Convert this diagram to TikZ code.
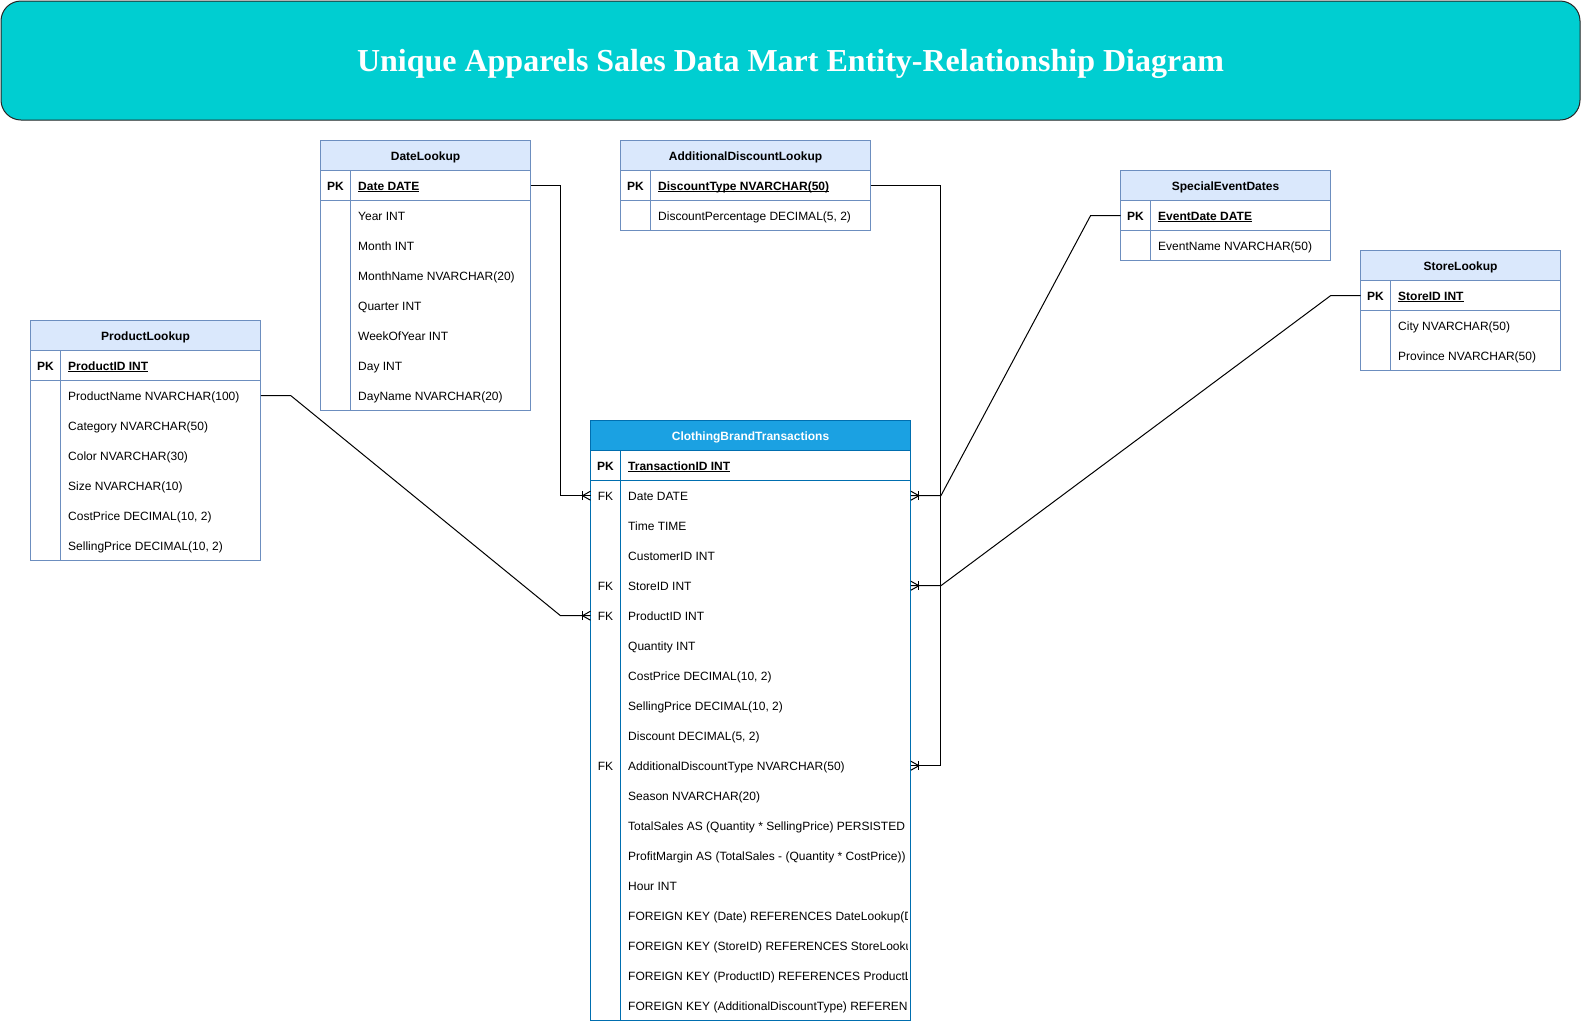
\documentclass[tikz,border=0pt]{standalone}
\usepackage{fontspec}
\setmainfont{Liberation Sans}
\newfontfamily\titlefont{Liberation Serif}
\usetikzlibrary{calc}

\definecolor{bannerfill}{HTML}{00CED1}
\definecolor{lkfill}{HTML}{DAE8FC}
\definecolor{lkline}{HTML}{6C8EBF}
\definecolor{lktitle}{HTML}{000000}
\definecolor{mainfill}{HTML}{1BA1E2}
\definecolor{mainline}{HTML}{006EAF}
\definecolor{maintitle}{HTML}{FFFFFF}

% underline drawn just below the baseline
\newlength\ulwidth
\newcommand\keyul[1]{\settowidth\ulwidth{#1}\rlap{\rule[-1.9pt]{\ulwidth}{0.9pt}}#1}

\tikzset{
  rowcell/.style={draw=none, inner sep=0pt, minimum height=30pt, anchor=north west},
  keylbl/.style={anchor=base, inner sep=0pt, font=\fontsize{12}{14}\selectfont},
  fldlbl/.style={anchor=base west, inner sep=0pt, font=\fontsize{12}{14}\selectfont},
  conn/.style={draw=black, line width=1pt},
  manyend/.pic={
    \draw[line width=1pt] (0,-4.5) -- (8,0) -- (0,4.5);
    \draw[line width=1pt] (8,-4.5) -- (8,4.5);
  }
}

% table frame: prefix, left, top, width, rows below header, colour set, title
\newcommand{\ertable}[7]{%
  \draw[line width=1pt, draw=#6line, fill=#6fill] (#2,#3) rectangle ++(#4,30);
  \draw[line width=1pt, draw=#6line] (#2,#3) rectangle (#2+#4,#3+30*#5+30);
  \draw[line width=1pt, draw=#6line] (#2,#3+60) -- ++(#4,0);
  \draw[line width=1pt, draw=#6line] (#2+30,#3+30) -- (#2+30,#3+30*#5+30);
  \node[anchor=base, inner sep=0pt, text=#6title,
        font=\bfseries\fontsize{12}{14}\selectfont] (#1) at (#2+#4/2,#3+20) {#7};
  \foreach \k in {1,...,#5}
    \node[rowcell, minimum width=#4] (#1-\k) at (#2,#3+30*\k) {};
}

% one field: row node, key text, field text
\newcommand{\fld}[3]{%
  \node[keylbl] at ($(#1.west)+(15,4.4)$) {#2};
  \node[fldlbl] at ($(#1.west)+(37.5,4.4)$) {#3};
}
\newcommand{\pkfld}[2]{\fld{#1}{\textbf{PK}}{\textbf{\keyul{#2}}}}

\begin{document}
\begin{tikzpicture}[x=1pt, y=-1pt]
\useasboundingbox (0,0) rectangle (1581,1021);

% banner
\node[draw=black!85, line width=1pt, rounded corners=20pt, fill=bannerfill,
      minimum width=1579pt, minimum height=119pt, inner sep=0pt]
  (banner) at (790.5,60.5) {};
\node[anchor=base, inner sep=0pt, text=white,
      font=\titlefont\bfseries\fontsize{32}{38}\selectfont]
  (bannertitle) at (790.5,71.5) {Unique Apparels Sales Data Mart Entity-Relationship Diagram};

% DateLookup
\ertable{dl}{320.5}{140.5}{210}{8}{lk}{DateLookup}
\pkfld{dl-1}{Date DATE}
\fld{dl-2}{}{Year INT}
\fld{dl-3}{}{Month INT}
\fld{dl-4}{}{MonthName NVARCHAR(20)}
\fld{dl-5}{}{Quarter INT}
\fld{dl-6}{}{WeekOfYear INT}
\fld{dl-7}{}{Day INT}
\fld{dl-8}{}{DayName NVARCHAR(20)}

% AdditionalDiscountLookup
\ertable{adl}{620.5}{140.5}{250}{2}{lk}{AdditionalDiscountLookup}
\pkfld{adl-1}{DiscountType NVARCHAR(50)}
\fld{adl-2}{}{DiscountPercentage DECIMAL(5, 2)}

% SpecialEventDates
\ertable{sed}{1120.5}{170.5}{210}{2}{lk}{SpecialEventDates}
\pkfld{sed-1}{EventDate DATE}
\fld{sed-2}{}{EventName NVARCHAR(50)}

% StoreLookup
\ertable{st}{1360.5}{250.5}{200}{3}{lk}{StoreLookup}
\pkfld{st-1}{StoreID INT}
\fld{st-2}{}{City NVARCHAR(50)}
\fld{st-3}{}{Province NVARCHAR(50)}

% ProductLookup
\ertable{pl}{30.5}{320.5}{230}{7}{lk}{ProductLookup}
\pkfld{pl-1}{ProductID INT}
\fld{pl-2}{}{ProductName NVARCHAR(100)}
\fld{pl-3}{}{Category NVARCHAR(50)}
\fld{pl-4}{}{Color NVARCHAR(30)}
\fld{pl-5}{}{Size NVARCHAR(10)}
\fld{pl-6}{}{CostPrice DECIMAL(10, 2)}
\fld{pl-7}{}{SellingPrice DECIMAL(10, 2)}

% ClothingBrandTransactions (fact table)
\ertable{ct}{590.5}{420.5}{320}{19}{main}{ClothingBrandTransactions}
\begin{scope}
\clip (590.5,420.5) rectangle (907.5,1020.5);
\pkfld{ct-1}{TransactionID INT}
\fld{ct-2}{FK}{Date DATE}
\fld{ct-3}{}{Time TIME}
\fld{ct-4}{}{CustomerID INT}
\fld{ct-5}{FK}{StoreID INT}
\fld{ct-6}{FK}{ProductID INT}
\fld{ct-7}{}{Quantity INT}
\fld{ct-8}{}{CostPrice DECIMAL(10, 2)}
\fld{ct-9}{}{SellingPrice DECIMAL(10, 2)}
\fld{ct-10}{}{Discount DECIMAL(5, 2)}
\fld{ct-11}{FK}{AdditionalDiscountType NVARCHAR(50)}
\fld{ct-12}{}{Season NVARCHAR(20)}
\fld{ct-13}{}{TotalSales AS (Quantity * SellingPrice) PERSISTED}
\fld{ct-14}{}{ProfitMargin AS (TotalSales - (Quantity * CostPrice)) PERSISTED}
\fld{ct-15}{}{Hour INT}
\fld{ct-16}{}{FOREIGN KEY (Date) REFERENCES DateLookup(Date)}
\fld{ct-17}{}{FOREIGN KEY (StoreID) REFERENCES StoreLookup(StoreID)}
\fld{ct-18}{}{FOREIGN KEY (ProductID) REFERENCES ProductLookup(ProductID)}
\fld{ct-19}{}{FOREIGN KEY (AdditionalDiscountType) REFERENCES AdditionalDiscountLookup(DiscountType)}
\end{scope}

% relationships
\draw[conn] (dl-1.east) -- ++(30,0) |- (ct-2.west);
\draw[conn] (pl-2.east) -- ++(30,0) -- ($(ct-6.west)+(-30,0)$) -- (ct-6.west);
\draw[conn] (adl-1.east) -- ++(70,0) |- (ct-11.east);
\draw[conn] (sed-1.west) -- ++(-30,0) -- ($(ct-2.east)+(30,0)$) -- (ct-2.east);
\draw[conn] (st-1.west) -- ++(-30,0) -- ($(ct-5.east)+(30,0)$) -- (ct-5.east);

% crow's-foot ends at the fact table
\pic[rotate=180] at (ct-2.west) {manyend};
\pic[rotate=180] at (ct-6.west) {manyend};
\pic at (ct-2.east) {manyend};
\pic at (ct-5.east) {manyend};
\pic at (ct-11.east) {manyend};
\end{tikzpicture}
\end{document}
